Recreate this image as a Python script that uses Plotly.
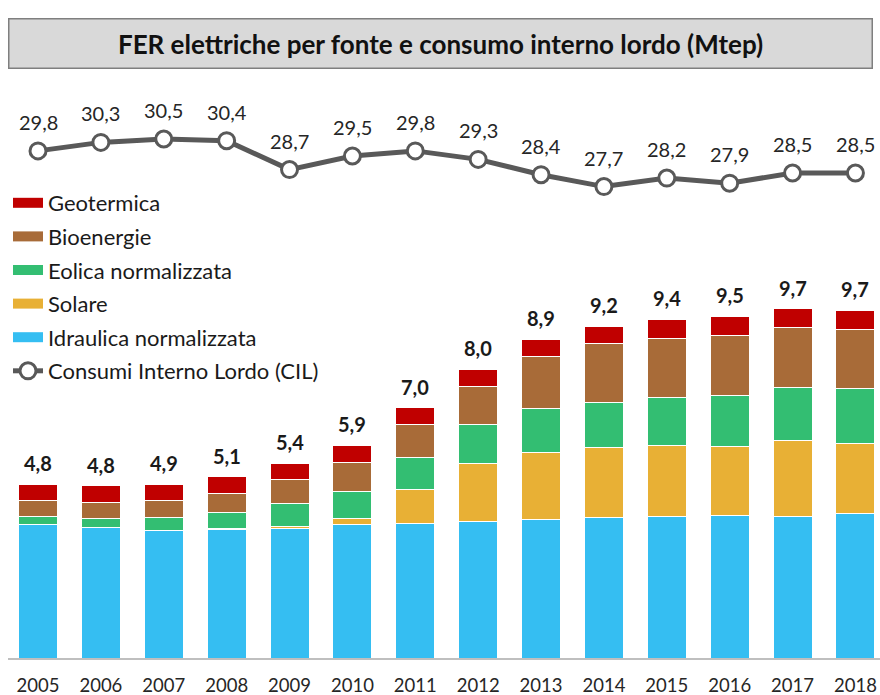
import plotly.graph_objects as go

years = [2005, 2006, 2007, 2008, 2009, 2010, 2011, 2012, 2013, 2014, 2015, 2016, 2017, 2018]
idraulica = [3.71, 3.62, 3.54, 3.58, 3.61, 3.70, 3.75, 3.79, 3.84, 3.90, 3.93, 3.95, 3.93, 4.01]
solare = [0.00, 0.00, 0.01, 0.02, 0.05, 0.17, 0.93, 1.62, 1.87, 1.94, 1.98, 1.92, 2.11, 1.94]
eolica = [0.23, 0.25, 0.34, 0.44, 0.64, 0.75, 0.88, 1.08, 1.21, 1.27, 1.32, 1.42, 1.47, 1.54]
bioenergie = [0.43, 0.45, 0.48, 0.52, 0.65, 0.81, 0.92, 1.06, 1.45, 1.62, 1.65, 1.67, 1.67, 1.64]
geotermica = [0.45, 0.46, 0.46, 0.48, 0.46, 0.48, 0.47, 0.47, 0.49, 0.49, 0.53, 0.53, 0.52, 0.53]
totali_label = ["4,8", "4,8", "4,9", "5,1", "5,4", "5,9", "7,0", "8,0", "8,9", "9,2", "9,4", "9,5", "9,7", "9,7"]
cil = [29.8, 30.3, 30.5, 30.4, 28.7, 29.5, 29.8, 29.3, 28.4, 27.7, 28.2, 27.9, 28.5, 28.5]

FONT = "Lato"
series = [
    ("Idraulica normalizzata", idraulica, "#35BEF2"),
    ("Solare", solare, "#E8B035"),
    ("Eolica normalizzata", eolica, "#33BE72"),
    ("Bioenergie", bioenergie, "#A86B38"),
    ("Geotermica", geotermica, "#C00000"),
]
legend_rank = {"Geotermica": 1, "Bioenergie": 2, "Eolica normalizzata": 3, "Solare": 4,
               "Idraulica normalizzata": 5}

W, H = 880, 695
PLOT_TOP, PLOT_BOTTOM, L = 80, 658, 8
PLOT_H = PLOT_BOTTOM - PLOT_TOP
PLOT_W = W - L
PX_PER_CAT = 62.88
x0 = 2005 - (38 - L) / PX_PER_CAT
x1 = x0 + PLOT_W / PX_PER_CAT

fig = go.Figure()
for name, vals, col in series:
    fig.add_trace(go.Bar(x=years, y=vals, name=name, marker=dict(color=col, line=dict(color="white", width=1)),
                         width=0.62, showlegend=False, hoverinfo="skip"))
    fig.add_trace(go.Scatter(x=[None], y=[None], mode="lines", name=name,
                             line=dict(color=col, width=10), legendrank=legend_rank[name],
                             legendgroup=name))

fig.add_trace(go.Scatter(x=years, y=cil, yaxis="y2", mode="lines+markers", name="Consumi Interno Lordo (CIL)",
                         line=dict(color="#595959", width=5),
                         marker=dict(symbol="circle", size=16, color="white", line=dict(color="#595959", width=3)),
                         legendrank=6, legendgroup="cil"))

totals = [sum(v) for v in zip(idraulica, solare, eolica, bioenergie, geotermica)]
ann = []
for x, t, lab in zip(years, totals, totali_label):
    ann.append(dict(x=x, y=t, xref="x", yref="y", text=lab, showarrow=False, yshift=21,
                    font=dict(family=FONT, size=20, color="#1a1a1a", weight="bold")))
for x, v in zip(years, cil):
    ann.append(dict(x=x, y=v, xref="x", yref="y2", text=f"{v:.1f}".replace(".", ","), showarrow=False,
                    yshift=29, font=dict(family=FONT, size=20, color="#262626")))
ann.append(dict(xref="paper", yref="paper", x=(440 - L) / PLOT_W, y=1 + (PLOT_TOP - 43) / PLOT_H,
                xanchor="center", yanchor="middle",
                text="<b>FER elettriche per fonte e consumo interno lordo (Mtep)</b>",
                showarrow=False, font=dict(family=FONT, size=26, color="#111111"),
                width=860, height=46, bgcolor="#D9D9D9", bordercolor="#7F7F7F", borderwidth=1.5,
                valign="middle"))

fig.update_layout(
    width=W, height=H,
    margin=dict(l=L, r=0, t=PLOT_TOP, b=H - PLOT_BOTTOM, autoexpand=False),
    paper_bgcolor="white", plot_bgcolor="white",
    barmode="stack", bargap=0.38,
    xaxis=dict(range=[x0, x1], tickvals=years, ticktext=[str(y) for y in years],
               tickangle=0, showgrid=False, zeroline=False, showline=True, linecolor="#BFBFBF", linewidth=2,
               ticks="outside", ticklen=10, tickcolor="rgba(0,0,0,0)",
               tickfont=dict(family=FONT, size=18.5, color="#262626")),
    yaxis=dict(range=[0, PLOT_H / 36], visible=False),
    yaxis2=dict(range=[-0.03, 33.97], overlaying="y", visible=False),
    legend=dict(x=0.0, y=1 - (182 - PLOT_TOP) / PLOT_H, xanchor="left", yanchor="top",
                traceorder="grouped", tracegroupgap=2, bgcolor="rgba(0,0,0,0)",
                font=dict(family=FONT, size=22, color="#1a1a1a"), itemwidth=30),
    annotations=ann,
)

fig.write_html("out.html", config={"displayModeBar": False},
               post_script="document.body.style.margin='0';document.body.style.overflow='hidden';")
